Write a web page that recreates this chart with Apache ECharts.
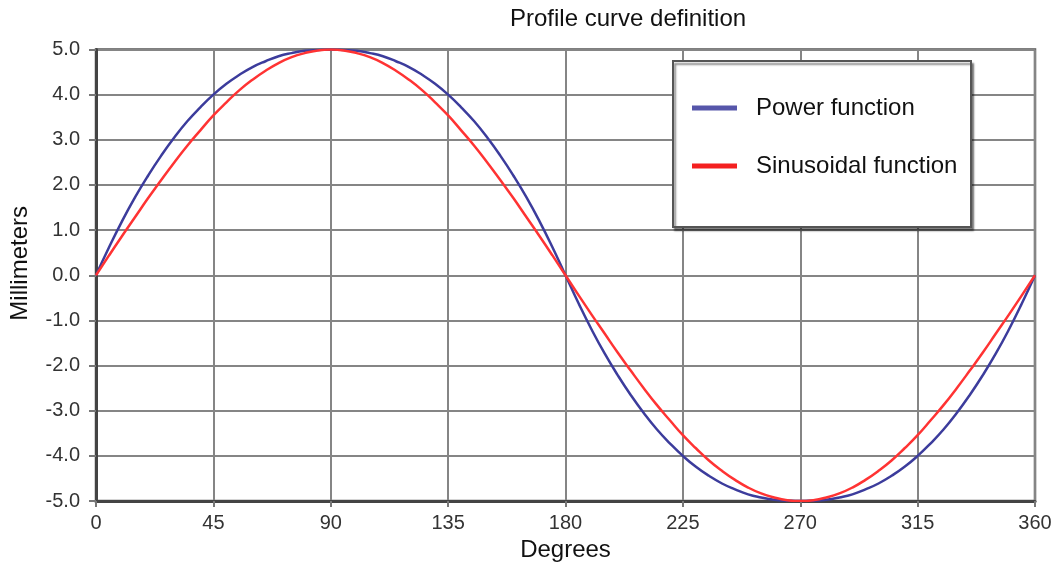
<!DOCTYPE html>
<html>
<head>
<meta charset="utf-8">
<script src="https://cdn.jsdelivr.net/npm/echarts@6/dist/echarts.min.js"></script>
<style>
html,body{margin:0;padding:0;background:#fff;}
#chart{width:1056px;height:567px;}
</style>
</head>
<body>
<div id="chart"></div>
<script>
// Degrees (x values)
const degrees = [0,5,10,15,20,25,30,35,40,45,50,55,60,65,70,75,80,85,90,
  95,100,105,110,115,120,125,130,135,140,145,150,155,160,165,170,175,180,
  185,190,195,200,205,210,215,220,225,230,235,240,245,250,255,260,265,270,
  275,280,285,290,295,300,305,310,315,320,325,330,335,340,345,350,355,360];

// Power function (mm)
const powerValues = [0,0.62,1.20,1.73,2.21,2.65,3.05,3.41,3.72,4.00,4.24,4.44,4.61,4.74,4.85,4.92,4.97,4.99,5.00,
  4.99,4.97,4.92,4.85,4.74,4.61,4.44,4.24,4.00,3.72,3.41,3.05,2.65,2.21,1.73,1.20,0.62,0,
  -0.62,-1.20,-1.73,-2.21,-2.65,-3.05,-3.41,-3.72,-4.00,-4.24,-4.44,-4.61,-4.74,-4.85,-4.92,-4.97,-4.99,-5.00,
  -4.99,-4.97,-4.92,-4.85,-4.74,-4.61,-4.44,-4.24,-4.00,-3.72,-3.41,-3.05,-2.65,-2.21,-1.73,-1.20,-0.62,0];

// Sinusoidal function (mm)
const sineValues = [0,0.44,0.87,1.29,1.71,2.11,2.50,2.87,3.21,3.54,3.83,4.10,4.33,4.53,4.70,4.83,4.92,4.98,5.00,
  4.98,4.92,4.83,4.70,4.53,4.33,4.10,3.83,3.54,3.21,2.87,2.50,2.11,1.71,1.29,0.87,0.44,0,
  -0.44,-0.87,-1.29,-1.71,-2.11,-2.50,-2.87,-3.21,-3.54,-3.83,-4.10,-4.33,-4.53,-4.70,-4.83,-4.92,-4.98,-5.00,
  -4.98,-4.92,-4.83,-4.70,-4.53,-4.33,-4.10,-3.83,-3.54,-3.21,-2.87,-2.50,-2.11,-1.71,-1.29,-0.87,-0.44,0];

const seriesNames = ['Power function', 'Sinusoidal function'];
const titleText = 'Profile curve definition';
const xName = 'Degrees';
const yName = 'Millimeters';

const FONT = 'Liberation Sans, Arial, sans-serif';
const chart = echarts.init(document.getElementById('chart'), null, {renderer: 'canvas'});

const toPairs = vals => degrees.map((d, i) => [d, vals[i]]);

chart.setOption({
  animation: false,
  backgroundColor: '#ffffff',
  title: {
    text: titleText,
    left: 505, top: 2,
    textStyle: {fontFamily: FONT, fontSize: 24, fontWeight: 'normal', color: '#111'}
  },
  grid: {
    left: 94.5, right: 21, top: 49.5, bottom: 64.5,
    show: true, borderColor: '#555', borderWidth: 2.5, backgroundColor: '#fff'
  },
  xAxis: {
    type: 'value', min: 0, max: 360, interval: 45,
    name: xName, nameLocation: 'middle', nameGap: 36,
    nameTextStyle: {fontFamily: FONT, fontSize: 24, color: '#111'},
    axisLine: {show: true, onZero: false, lineStyle: {color: '#444', width: 3}},
    axisTick: {show: true, length: 6, lineStyle: {color: '#777', width: 2}},
    axisLabel: {margin: 12, fontFamily: FONT, fontSize: 20, color: '#333'},
    splitLine: {show: true, lineStyle: {color: '#858585', width: 2}}
  },
  yAxis: {
    type: 'value', min: -5, max: 5, interval: 1,
    name: yName, nameLocation: 'middle', nameGap: 64,
    nameTextStyle: {fontFamily: FONT, fontSize: 24, color: '#111', padding: [0, 0, 0, 24]},
    axisLine: {show: true, onZero: false, lineStyle: {color: '#444', width: 3}},
    axisTick: {show: true, length: 7, lineStyle: {color: '#777', width: 2}},
    axisLabel: {margin: 16, fontFamily: FONT, fontSize: 20, color: '#333',
      formatter: v => v.toFixed(1)},
    splitLine: {show: true, lineStyle: {color: '#858585', width: 2}}
  },
  graphic: [{
    type: 'rect', z: 150,
    shape: {x: 673, y: 61, width: 298, height: 166},
    style: {fill: '#fff', stroke: '#555', lineWidth: 2,
      shadowColor: 'rgba(0,0,0,0.45)', shadowBlur: 2, shadowOffsetX: 2, shadowOffsetY: 3}
  }],
  legend: {
    z: 200, orient: 'vertical', left: 692, top: 94, padding: 0,
    itemWidth: 45, itemHeight: 5, itemGap: 30, icon: 'rect',
    textStyle: {fontFamily: FONT, fontSize: 24, color: '#111', lineHeight: 28, padding: [0, 0, 0, 14]},
    data: [
      {name: seriesNames[0], itemStyle: {color: '#5656aa'}},
      {name: seriesNames[1], itemStyle: {color: '#f42020'}}
    ]
  },
  series: [
    {name: seriesNames[0], type: 'line', data: toPairs(powerValues), smooth: true,
      showSymbol: false, lineStyle: {color: '#3c3c9c', width: 2.5}, itemStyle: {color: '#3c3c9c'}, z: 3},
    {name: seriesNames[1], type: 'line', data: toPairs(sineValues), smooth: true,
      showSymbol: false, lineStyle: {color: '#ff3333', width: 2.5}, itemStyle: {color: '#ff3333'}, z: 4}
  ]
});
</script>
</body>
</html>
